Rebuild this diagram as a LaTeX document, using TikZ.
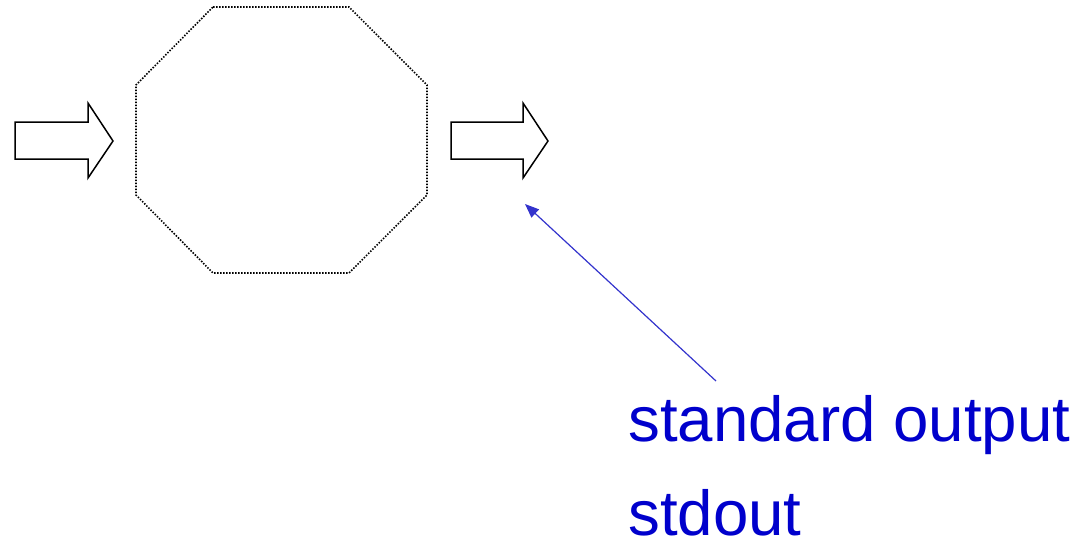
\documentclass[tikz,border=0pt]{standalone}
\usepackage{fontspec}
\setmainfont{Liberation Sans}
\usetikzlibrary{arrows.meta}
\definecolor{txtblue}{HTML}{0000CC}
\definecolor{lineblue}{HTML}{3333CC}
\begin{document}
\begin{tikzpicture}[x=1pt,y=-1pt,
  blockarrow/.style={draw=black,line width=1.5pt,line join=miter,fill=white},
  octo/.style={draw=black,line width=1.6pt,dash pattern=on 1.5pt off 1.5pt},
  lbl/.style={text=txtblue,font=\fontsize{63.6}{77}\selectfont,anchor=base west,inner sep=0pt},
  pointer/.style={draw=lineblue,line width=1.2pt,-{Triangle[length=14pt,width=11pt]}}]
\useasboundingbox (0,0) rectangle (1085,547);
% octagon
\draw[octo] (213,7) -- (349,7) -- (427,85) -- (427,195) -- (349,273) -- (213,273) -- (136,195) -- (136,85) -- cycle;
% left block arrow
\draw[blockarrow] (15,122) -- (88,122) -- (88,103) -- (113,141) -- (88,178) -- (88,159) -- (15,159) -- cycle;
% right block arrow
\draw[blockarrow] (451,122) -- (523,122) -- (523,103) -- (548,141) -- (523,178) -- (523,159) -- (451,159) -- cycle;
% labels
\node[lbl] (so) at (628,441) {standard output};
\node[lbl] (sd) at (628,535) {stdout};
% pointer
\coordinate (pstart) at (716,381);
\coordinate (ptip) at (525,204);
\draw[pointer] (pstart) -- (ptip);
\end{tikzpicture}
\end{document}
